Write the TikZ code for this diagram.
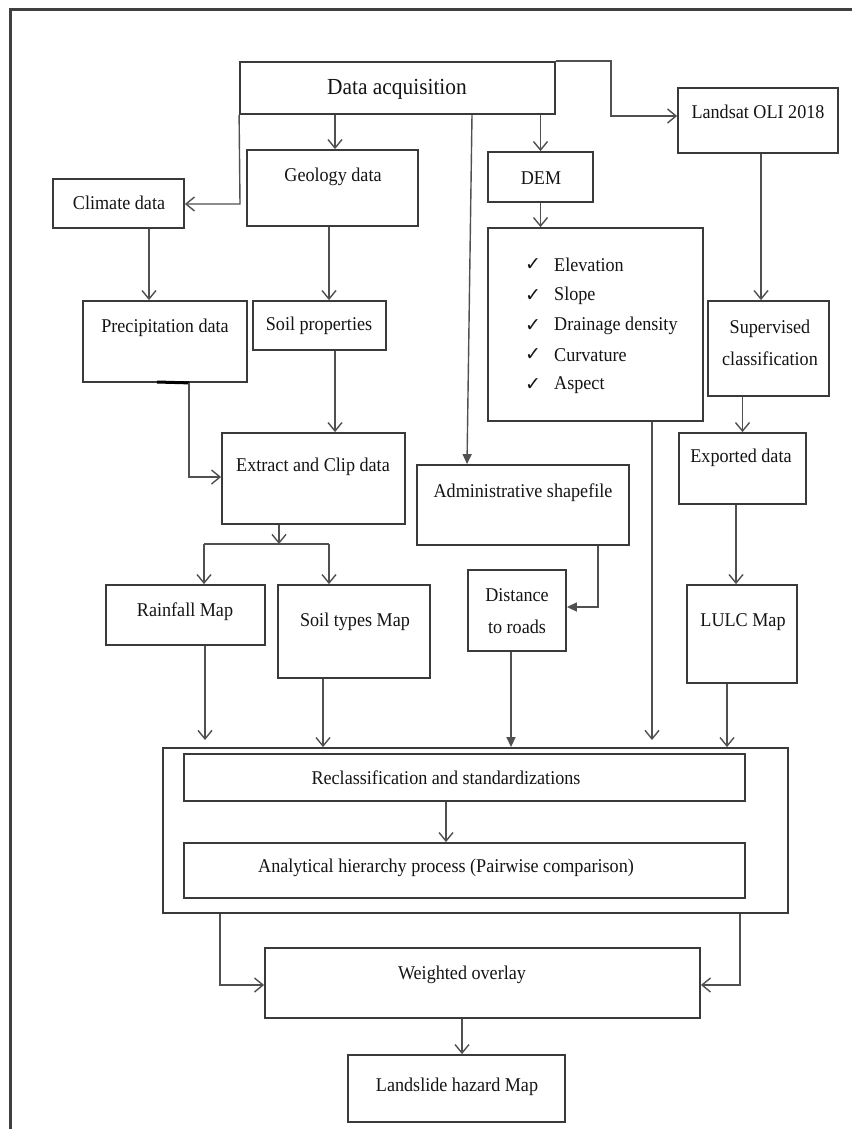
\documentclass[tikz,border=0pt]{standalone}
\usepackage{fontspec}
\setmainfont{Liberation Serif}[FakeStretch=0.93]
\newfontfamily\symf{DejaVu Sans}
\usetikzlibrary{arrows.meta,calc}
\definecolor{boxc}{HTML}{3A3A3A}
\definecolor{linec}{HTML}{505050}
\definecolor{txtc}{HTML}{141414}
\definecolor{framec}{HTML}{404040}
\begin{document}
\begin{tikzpicture}[x=1pt,y=-1pt,
  box/.style={draw=boxc, line width=1.8pt, rectangle, inner sep=0pt},
  txt/.style={text=txtc, font=\fontsize{19.5}{32}\selectfont, inner sep=0pt, align=center},
  conn/.style={draw=linec, line width=1.4pt},
  oarr/.style={conn, -{Straight Barb[length=8.5pt,width=14pt,line width=1.4pt]}},
  farr/.style={conn, -{Triangle[length=10pt,width=9pt]}},
  frame/.style={draw=framec, line width=3pt},
]
\useasboundingbox (0,0) rectangle (852,1129);
% page frame (top and left edges)
\coordinate (fTL) at (10.5,10);
\coordinate (fTR) at (852,10);
\coordinate (fBL) at (10.5,1129);
\draw[frame] (fTR) -- (fTL) -- (fBL);

% boxes
\node[box, minimum width=315, minimum height=52] (dacq) at (397.5,88) {};
\node[box, minimum width=160, minimum height=65] (landsat) at (758,120.5) {};
\node[box, minimum width=131, minimum height=49] (climate) at (118.5,203.5) {};
\node[box, minimum width=171, minimum height=76] (geology) at (332.5,188) {};
\node[box, minimum width=105, minimum height=50] (dem) at (540.5,177) {};
\node[box, minimum width=215, minimum height=193] (list) at (595.5,324.5) {};
\node[box, minimum width=164, minimum height=81] (precip) at (165,341.5) {};
\node[box, minimum width=133, minimum height=49] (soilp) at (319.5,325.5) {};
\node[box, minimum width=183, minimum height=91] (extract) at (313.5,478.5) {};
\node[box, minimum width=159, minimum height=60] (rain) at (185.5,615) {};
\node[box, minimum width=152, minimum height=93] (soilt) at (354,631.5) {};
\node[box, minimum width=212, minimum height=80] (admin) at (523,505) {};
\node[box, minimum width=98, minimum height=81] (dist) at (517,610.5) {};
\node[box, minimum width=121, minimum height=95] (superv) at (768.5,348.5) {};
\node[box, minimum width=127, minimum height=71] (export) at (742.5,468.5) {};
\node[box, minimum width=110, minimum height=98] (lulc) at (742,634) {};
\node[box, minimum width=625, minimum height=165] (outer) at (475.5,830.5) {};
\node[box, minimum width=561, minimum height=47] (reclass) at (464.5,777.5) {};
\node[box, minimum width=561, minimum height=55] (ahp) at (464.5,870.5) {};
\node[box, minimum width=435, minimum height=70] (wover) at (482.5,983) {};
\node[box, minimum width=217, minimum height=67] (land) at (456.5,1088.5) {};

% texts
\node[txt, font=\fontsize{23}{26}\selectfont] (tdacq) at (397,89) {Data acquisition};
\node[txt] (tlandsat) at (758,112) {Landsat OLI 2018};
\node[txt] (tclimate) at (119,203) {Climate data};
\node[txt] (tgeology) at (333,177) {Geology data};
\node[txt] (tdem) at (541,178) {DEM};
\node[txt] (tprecip) at (165,328) {Precipitation data};
\node[txt] (tsoilp) at (319,326) {Soil properties};
\node[txt] (textract) at (313,467) {Extract and Clip data};
\node[txt] (train) at (185,612) {Rainfall Map};
\node[txt] (tsoilt) at (355,622) {Soil types Map};
\node[txt] (tadmin) at (523,493) {Administrative shapefile};
\node[txt] (tdist) at (517,611) {Distance\\to roads};
\node[txt] (tsuperv) at (770,343) {Supervised\\classification};
\node[txt] (texport) at (741,458) {Exported data};
\node[txt] (tlulc) at (743,622) {LULC Map};
\node[txt] (treclass) at (446,778) {Reclassification and standardizations};
\node[txt] (tahp) at (446,868) {Analytical hierarchy process (Pairwise comparison)};
\node[txt] (twover) at (462,975) {Weighted overlay};
\node[txt] (tland) at (457,1087) {Landslide hazard Map};

% DEM derivatives list
\foreach \nm/\yy/\lab in {i1/265/Elevation, i2/296/Slope, i3/326/Drainage density, i4/355/Curvature, i5/385/Aspect}{
  \node[txt, font=\symf\fontsize{19}{20}\selectfont] (c\nm) at (533,\yy) {✓};
  \node[txt, anchor=west] (\nm) at (554,\yy) {\lab};
}

% connector coordinates
\coordinate (k1) at (611,116);
\coordinate (k2) at (240,204);
\coordinate (xg) at (335,0);
\coordinate (xa1) at (472,0);
\coordinate (xa2) at (467,0);
\coordinate (xl) at (761,0);
\coordinate (xc) at (149,0);
\coordinate (xg2) at (329,0);
\coordinate (k3) at (189,477);
\coordinate (m1) at (157,382);
\coordinate (s0) at (279,544);
\coordinate (s1) at (204,544);
\coordinate (s2) at (329,544);
\coordinate (k4) at (598,607);
\coordinate (xe) at (736,0);
\coordinate (e1) at (205,740);
\coordinate (xst) at (323,0);
\coordinate (xd) at (511,0);
\coordinate (e4) at (652,740);
\coordinate (xlu) at (727,0);
\coordinate (xr) at (446,0);
\coordinate (k5) at (220,985);
\coordinate (k6) at (740,985);
\coordinate (xw) at (462,0);

% connectors
\draw[oarr] (dacq.north east) -| (k1) -- (landsat.west |- k1);
\draw[oarr] (dacq.south west) -- (k2) -- (climate.east |- k2);
\draw[oarr] (dacq.south -| xg) -- (geology.north -| xg);
\draw[oarr] (dacq.south -| dem.north) -- (dem.north);
\draw[farr] (dacq.south -| xa1) -- (admin.north -| xa2);
\draw[oarr] (dem.south) -- (list.north -| dem.south);
\draw[oarr] (landsat.south -| xl) -- (superv.north -| xl);
\draw[oarr] (climate.south -| xc) -- (precip.north -| xc);
\draw[oarr] (geology.south -| xg2) -- (soilp.north -| xg2);
\draw[line width=3pt, black] (m1) -- (precip.south -| k3);
\draw[oarr] (precip.south -| k3) -- (k3) -- (extract.west |- k3);
\draw[oarr] (soilp.south -| xg) -- (extract.north -| xg);
\draw[oarr] (extract.south -| s0) -- (s0);
\draw[conn] (s1) -- (s2);
\draw[oarr] (s1) -- (rain.north -| s1);
\draw[oarr] (s2) -- (soilt.north -| s2);
\draw[farr] (admin.south -| k4) -- (k4) -- (dist.east |- k4);
\draw[oarr] (superv.south -| export.north) -- (export.north);
\draw[oarr] (export.south -| xe) -- (lulc.north -| xe);
\draw[oarr] (rain.south -| e1) -- (e1);
\draw[oarr] (soilt.south -| xst) -- (outer.north -| xst);
\draw[farr] (dist.south -| xd) -- (outer.north -| xd);
\draw[oarr] (list.south -| e4) -- (e4);
\draw[oarr] (lulc.south -| xlu) -- (outer.north -| xlu);
\draw[oarr] (reclass.south -| xr) -- (ahp.north -| xr);
\draw[oarr] (outer.south -| k5) -- (k5) -- (wover.west |- k5);
\draw[oarr] (outer.south -| k6) -- (k6) -- (wover.east |- k6);
\draw[oarr] (wover.south -| xw) -- (land.north -| xw);
\end{tikzpicture}
\end{document}
